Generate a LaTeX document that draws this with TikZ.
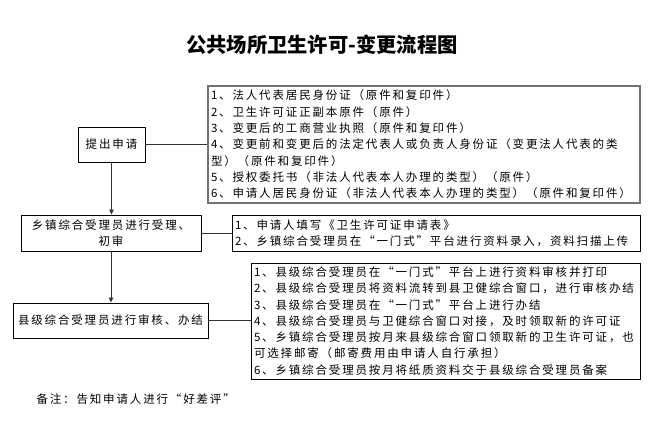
\documentclass[tikz,border=0pt]{standalone}
\usepackage{fontspec}
\setmainfont{Noto Sans CJK SC}
\usetikzlibrary{arrows.meta}
\begin{document}
\begin{tikzpicture}[x=1pt,y=-1pt,
  txt/.style={font=\fontsize{11.5}{16.3}\selectfont\addfontfeature{LetterSpace=16}},
  stepbox/.style={txt,draw=black,line width=0.9pt,align=center,inner sep=2pt},
  infobox/.style={txt,draw=black,line width=0.9pt,align=left,inner xsep=3pt,inner ysep=0pt},
  conn/.style={draw=black!80,line width=0.9pt},
  arr/.style={conn,-{Triangle[length=5pt,width=4.5pt]}}
]
\useasboundingbox[fill=white] (0,0) rectangle (668,422);
\node[font=\fontsize{20.3}{23}\selectfont\bfseries] (title) at (322,45) {公共场所卫生许可-变更流程图};

\node[stepbox,minimum width=67pt,minimum height=35pt] (apply) at (111.5,144.5) {提出申请};
\node[infobox,draw=black!55,line width=1.8pt,text width=426pt,minimum height=117pt] (info1) at (424,144.5)
{1、法人代表居民身份证（原件和复印件）\\
2、卫生许可证正副本原件（原件）\\
3、变更后的工商营业执照（原件和复印件）\\
4、变更前和变更后的法定代表人或负责人身份证（变更法人代表的类\\
型）（原件和复印件）\\
5、授权委托书（非法人代表本人办理的类型）（原件）\\
6、申请人居民身份证（非法人代表本人办理的类型）（原件和复印件）};

\node[stepbox,minimum width=180pt,minimum height=36pt] (town) at (111,233) {乡镇综合受理员进行受理、\\初审};
\node[infobox,text width=402pt,minimum height=36pt] (info2) at (436,233)
{1、申请人填写《卫生许可证申请表》\\
2、乡镇综合受理员在“一门式”平台进行资料录入，资料扫描上传};

\node[stepbox,minimum width=195pt,minimum height=35pt] (county) at (110.5,320.5) {县级综合受理员进行审核、办结};
\node[infobox,text width=383pt,minimum height=116pt] (info3) at (445.5,321)
{1、县级综合受理员在“一门式”平台上进行资料审核并打印\\
2、县级综合受理员将资料流转到县卫健综合窗口，进行审核办结\\
3、县级综合受理员在“一门式”平台上进行办结\\
4、县级综合受理员与卫健综合窗口对接，及时领取新的许可证\\
5、乡镇综合受理员按月来县级综合窗口领取新的卫生许可证，也\\
可选择邮寄（邮寄费用由申请人自行承担）\\
6、乡镇综合受理员按月将纸质资料交于县级综合受理员备案};

\node[txt,anchor=west] (note) at (33,399) {备注：告知申请人进行“好差评”};

\draw[conn] (apply.east) -- (info1.west |- apply.east);
\draw[arr] (apply.south) -- (apply.south |- town.north);
\draw[conn] (town.east) -- (info2.west |- town.east);
\draw[arr] (town.south) -- (town.south |- county.north);
\draw[conn] (county.east) -- (info3.west |- county.east);
\end{tikzpicture}
\end{document}
